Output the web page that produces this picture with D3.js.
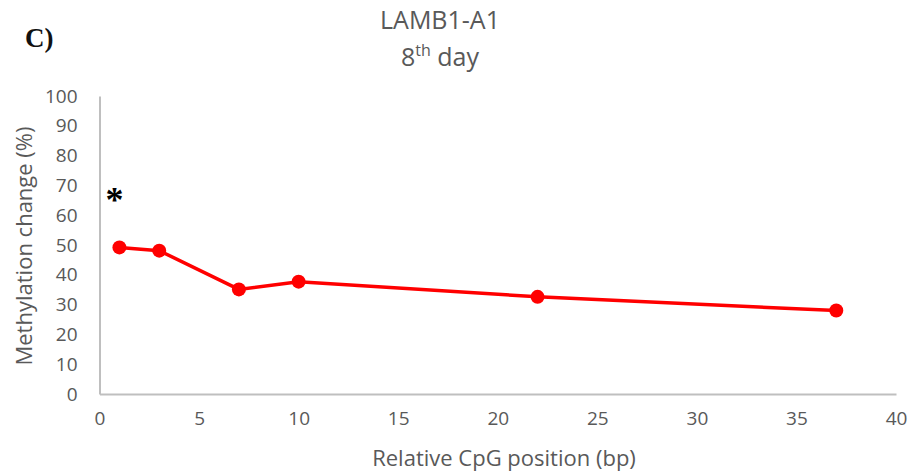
<!DOCTYPE html>
<html>
<head>
<meta charset="utf-8">
<script src="https://cdn.jsdelivr.net/npm/d3@7"></script>
<style>
  body { margin: 0; background: #fff; }
  text { font-family: "Open Sans", sans-serif; fill: #595959; }
</style>
</head>
<body>
<div id="chart"></div>
<script>
// chart data
const positions = [1, 3, 7, 10, 22, 37];
const methylation = [49.2, 48.1, 35.1, 37.7, 32.6, 28.0];
const xTicks = [0, 5, 10, 15, 20, 25, 30, 35, 40];
const yTicks = [0, 10, 20, 30, 40, 50, 60, 70, 80, 90, 100];
const starMark = [0.75, 66];

const width = 909, height = 474;
const margin = { top: 96, right: 13, bottom: 80, left: 99.5 };

const svg = d3.select("#chart")
    .append("svg")
    .attr("width", width)
    .attr("height", height);

const x = d3.scaleLinear().domain([0, 40]).range([margin.left, width - margin.right]);
const y = d3.scaleLinear().domain([0, 100]).range([height - margin.bottom, margin.top]);

// axes
const xAxis = svg.append("g")
    .attr("transform", `translate(0,${y(0)})`)
    .call(d3.axisBottom(x).tickValues(xTicks).tickSize(0).tickPadding(18));
const yAxis = svg.append("g")
    .attr("transform", `translate(${x(0)},0)`)
    .call(d3.axisLeft(y).tickValues(yTicks).tickSize(0).tickPadding(22));

[xAxis, yAxis].forEach(g => {
    g.select(".domain").attr("stroke", "#bfbfbf").attr("stroke-width", 2);
    g.selectAll("text").style("font-size", "19px").attr("fill", "#595959")
        .style("font-family", "'Open Sans', sans-serif");
});

// line + markers
const line = d3.line()
    .x((d, i) => x(positions[i]))
    .y(d => y(d));

svg.append("path")
    .datum(methylation)
    .attr("d", line)
    .attr("fill", "none")
    .attr("stroke", "#ff0000")
    .attr("stroke-width", 3.5);

svg.selectAll(".dot")
    .data(methylation)
    .enter()
    .append("circle")
    .attr("class", "dot")
    .attr("cx", (d, i) => x(positions[i]))
    .attr("cy", d => y(d))
    .attr("r", 7)
    .attr("fill", "#ff0000");

// significance star
svg.append("text")
    .attr("x", x(starMark[0]))
    .attr("y", y(starMark[1]))
    .attr("dy", "0.42em")
    .attr("text-anchor", "middle")
    .style("font-family", "'Liberation Serif', serif")
    .style("font-size", "36px")
    .style("font-weight", "bold")
    .style("fill", "#000")
    .text("*");

// titles
const title = svg.append("text")
    .attr("x", 446)
    .attr("text-anchor", "middle")
    .style("font-size", "25px");
title.append("tspan").attr("x", 440).attr("y", 29).text("LAMB1-A1");
const t2 = title.append("tspan").attr("x", 440).attr("y", 66);
t2.append("tspan").text("8");
t2.append("tspan").attr("dy", -10).style("font-size", "16px").text("th");
t2.append("tspan").attr("dy", 10).text(" day");

svg.append("text")
    .attr("x", 25)
    .attr("y", 47)
    .style("font-family", "'Liberation Serif', serif")
    .style("font-size", "27px")
    .style("font-weight", "bold")
    .style("fill", "#111")
    .text("C)");

svg.append("text")
    .attr("x", 504)
    .attr("y", 466)
    .attr("text-anchor", "middle")
    .style("font-size", "22px")
    .text("Relative CpG position (bp)");

svg.append("text")
    .attr("transform", `translate(32,246) rotate(-90)`)
    .attr("text-anchor", "middle")
    .style("font-size", "22px")
    .text("Methylation change (%)");
</script>
</body>
</html>
